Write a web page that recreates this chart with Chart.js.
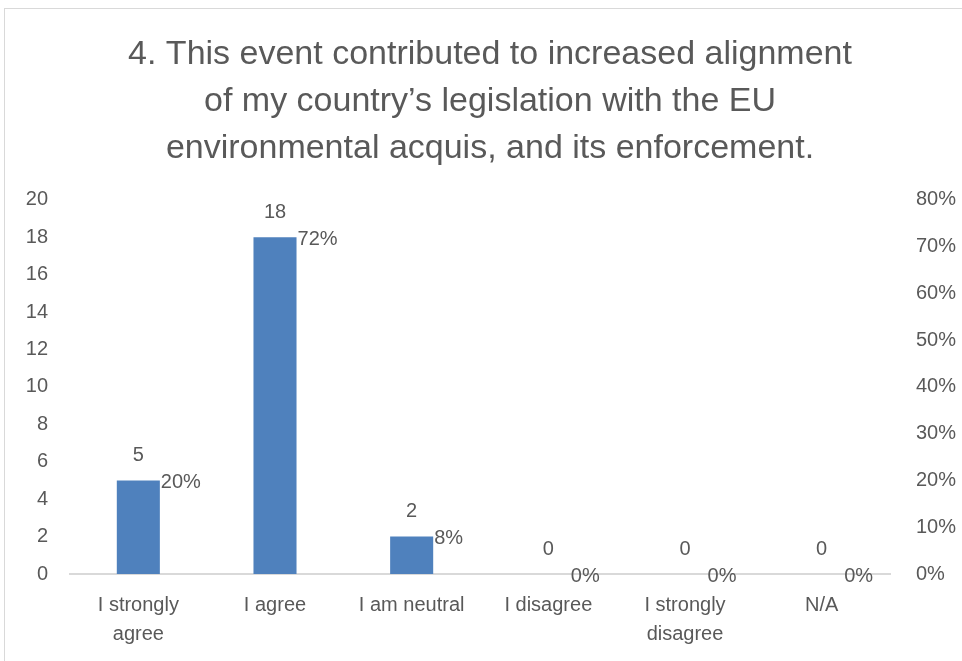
<!DOCTYPE html>
<html>
<head>
<meta charset="utf-8">
<script src="https://cdn.jsdelivr.net/npm/chart.js@4.4.1/dist/chart.umd.min.js"></script>
<style>
  html, body { margin:0; padding:0; background:#fff; }
  #wrap { position:relative; width:962px; height:661px; overflow:hidden; }
  #frame { position:absolute; left:4px; top:8px; width:1000px; height:700px; border:1px solid #d9d9d9; }
  #c { position:absolute; left:0; top:0; }
</style>
</head>
<body>
<div id="wrap">
  <div id="frame"></div>
  <canvas id="c" width="962" height="661"></canvas>
</div>
<script>
// datos
const categories = [['I strongly','agree'], 'I agree', 'I am neutral', 'I disagree', ['I strongly','disagree'], 'N/A'];
const counts = [5, 18, 2, 0, 0, 0];
const percents = [20, 72, 8, 0, 0, 0];
const titleLines = ['4. This event contributed to increased alignment', 'of my country\u2019s legislation with the EU', 'environmental acquis, and its enforcement.'];

const FONT = "'Liberation Sans', Arial, sans-serif";
const GREY = '#595959';

// etiquetas de datos (sin plugin externo)
const labelsPlugin = {
  id: 'barLabels',
  afterDatasetsDraw(chart) {
    const ctx = chart.ctx;
    const m0 = chart.getDatasetMeta(0);
    const m1 = chart.getDatasetMeta(1);
    ctx.save();
    ctx.fillStyle = GREY;
    ctx.font = '20px ' + FONT;
    m0.data.forEach((bar, i) => {
      ctx.textAlign = 'center';
      ctx.textBaseline = 'middle';
      ctx.fillText(String(counts[i]), bar.x, bar.y - 25);
    });
    m1.data.forEach((bar, i) => {
      const right = m0.data[i].x + m0.data[i].width / 2;
      ctx.textAlign = 'left';
      ctx.textBaseline = 'middle';
      ctx.fillText(percents[i] + '%', right + 1, bar.y + 2);
    });
    ctx.restore();
  }
};

new Chart(document.getElementById('c').getContext('2d'), {
  type: 'bar',
  data: {
    labels: categories,
    datasets: [
      { label:'Count', data: counts, yAxisID:'y', backgroundColor:'#4f81bd', grouped:false,
        categoryPercentage:1, barPercentage:0.315 },
      { label:'Percent', data: percents, yAxisID:'y2', backgroundColor:'rgba(0,0,0,0)', grouped:false,
        categoryPercentage:1, barPercentage:0.315 }
    ]
  },
  options: {
    responsive:false,
    animation:false,
    layout:{ padding:{ left:18, right:0, top:31, bottom:0 } },
    plugins:{
      legend:{ display:false },
      tooltip:{ enabled:false },
      title:{ display:true, text:titleLines, color:GREY,
        font:{ family:FONT, size:34, weight:'normal', lineHeight:1.38 },
        padding:{ top:0, bottom:28 } }
    },
    scales:{
      x:{
        grid:{ display:false },
        border:{ color:'#d9d9d9', width:2 },
        ticks:{ color:GREY, font:{ family:FONT, size:20, lineHeight:1.45 }, maxRotation:0, autoSkip:false, padding:9 },
        afterFit:s => { s.height = 87; }
      },
      y:{
        position:'left', min:0, max:20,
        grid:{ display:false, drawTicks:false },
        border:{ display:false },
        ticks:{ stepSize:2, color:GREY, font:{ family:FONT, size:20 }, padding:22 },
        afterFit:s => { s.width = 52; }
      },
      y2:{
        position:'right', min:0, max:80,
        grid:{ display:false, drawTicks:false },
        border:{ display:false },
        ticks:{ stepSize:10, color:GREY, font:{ family:FONT, size:20 }, padding:26,
          callback:v => v + '%' },
        afterFit:s => { s.width = 72; }
      }
    }
  },
  plugins:[labelsPlugin]
});
</script>
</body>
</html>
